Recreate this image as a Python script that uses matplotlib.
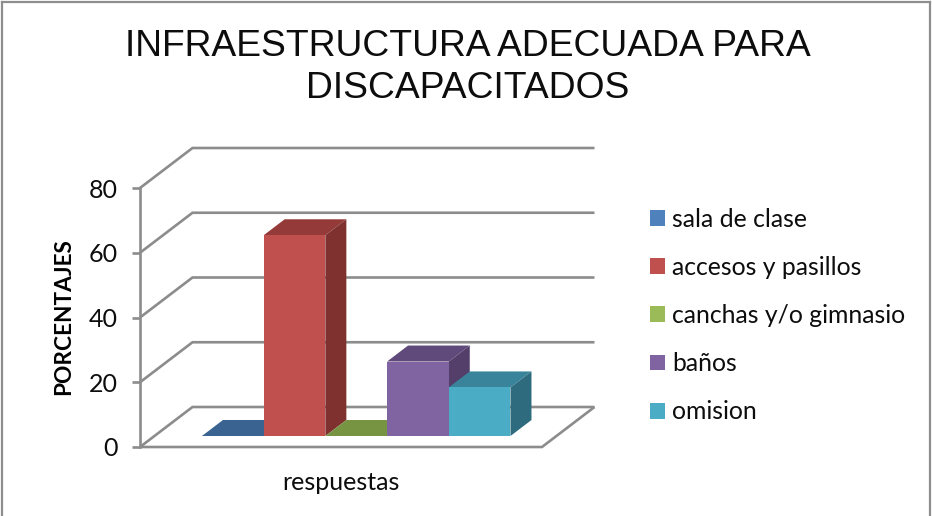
import matplotlib
matplotlib.use("Agg")
import matplotlib.pyplot as plt
from matplotlib.patches import Polygon, Patch
from matplotlib.lines import Line2D

title = "INFRAESTRUCTURA ADECUADA PARA\nDISCAPACITADOS"
ylabel = "PORCENTAJES"
category = "respuestas"
series = ["sala de clase", "accesos y pasillos", "canchas y/o gimnasio", "baños", "omision"]
values = [0, 62, 0, 23, 15]
yticks = [0, 20, 40, 60, 80]
front = ["#4F81BD", "#C0504D", "#9BBB59", "#8064A2", "#4BACC6"]
top = ["#3A6391", "#943A38", "#779443", "#604A7B", "#39849A"]
side = ["#335780", "#7E312F", "#667F39", "#543F6B", "#2E6B7E"]

W, H = 932, 516
GRID = "#8c8c8c"
TXT = "#0d0d0d"
BODY = "Lato"

fig = plt.figure(figsize=(W / 100, H / 100), dpi=100)
L, R, T, B = 140, 542, 188, 447
ax = fig.add_axes([L / W, 1 - B / H, (R - L) / W, (B - T) / H])
ax.set_facecolor("none")

gap_left, gap_right = 0.77, 0.745
nslots = len(values)
xmax = nslots + gap_left + gap_right
ax.set_xlim(0, xmax)
ax.set_ylim(0, max(yticks))

px_x = (R - L) / xmax
px_y = (B - T) / max(yticks)
DX = 52.5 / px_x   # full wall depth in data units
DY = 40 / px_y


def proj(x, y, d):
    return (x + d * DX, y + d * DY)


lw = 1.9
line = dict(color=GRID, lw=lw, clip_on=False, solid_capstyle="butt", solid_joinstyle="miter", zorder=1)
for v in yticks:
    p0, p1, p2 = proj(0, v, 0), proj(0, v, 1), proj(xmax, v, 1)
    ax.plot([p0[0], p1[0], p2[0]], [p0[1], p1[1], p2[1]], **line)
pa, pb = proj(xmax, 0, 0), proj(xmax, 0, 1)
ax.plot([0, pa[0], pb[0]], [0, pa[1], pb[1]], **line)

d0, d1 = 0.275, 0.675
for i, v in enumerate(values):
    x0, x1 = gap_left + i, gap_left + i + 1
    kw = dict(clip_on=False, zorder=3 + i, lw=0)
    ax.add_patch(Polygon([proj(x0, v, d0), proj(x1, v, d0), proj(x1, v, d1), proj(x0, v, d1)],
                         fc=top[i], **kw))
    if v > 0:
        ax.add_patch(Polygon([proj(x1, 0, d0), proj(x1, v, d0), proj(x1, v, d1), proj(x1, 0, d1)],
                             fc=side[i], **kw))
        ax.add_patch(Polygon([proj(x0, 0, d0), proj(x1, 0, d0), proj(x1, v, d0), proj(x0, v, d0)],
                             fc=front[i], **kw))

for s in ["top", "right", "bottom"]:
    ax.spines[s].set_visible(False)
ax.spines["left"].set_color(GRID)
ax.spines["left"].set_linewidth(lw)
ax.set_yticks(yticks)
ax.set_xticks([xmax / 2])
ax.set_xticklabels([category], fontsize=18, family=BODY, color=TXT)
ax.tick_params(axis="x", length=0, pad=17)
ax.tick_params(axis="y", length=6, width=lw, color=GRID, pad=10, labelsize=18, labelcolor=TXT)
for t in ax.get_yticklabels():
    t.set_family(BODY)

fig.text(64 / W, 1 - 317 / H, ylabel, rotation=90, ha="center", va="center",
         fontsize=16.3, fontweight="bold", family=BODY, color="black")
fig.text(467.5 / W, 1 - 67.5 / H, title, ha="center", va="center", fontsize=26.8,
         family="Liberation Sans", color=TXT, linespacing=1.28)

handles = [Patch(fc=c, ec="none") for c in front]
leg = fig.legend(handles, series, loc="center left", bbox_to_anchor=(650 / W, 1 - 315.5 / H),
                 frameon=False, ncol=1, handlelength=0.61, handleheight=0.61, handletextpad=0.28,
                 labelspacing=1.02, borderpad=0, borderaxespad=0,
                 prop=dict(family=BODY, size=17.8))
for t in leg.get_texts():
    t.set_color(TXT)

for xs, ys in [((2, 2), (516, 2)), ((2, 930), (2, 2)), ((930, 930), (2, 516))]:
    fig.add_artist(Line2D([x / W for x in xs], [1 - y / H for y in ys], color="#8e8e8e",
                          lw=1.6, transform=fig.transFigure))

fig.savefig("out.png", dpi=100)
